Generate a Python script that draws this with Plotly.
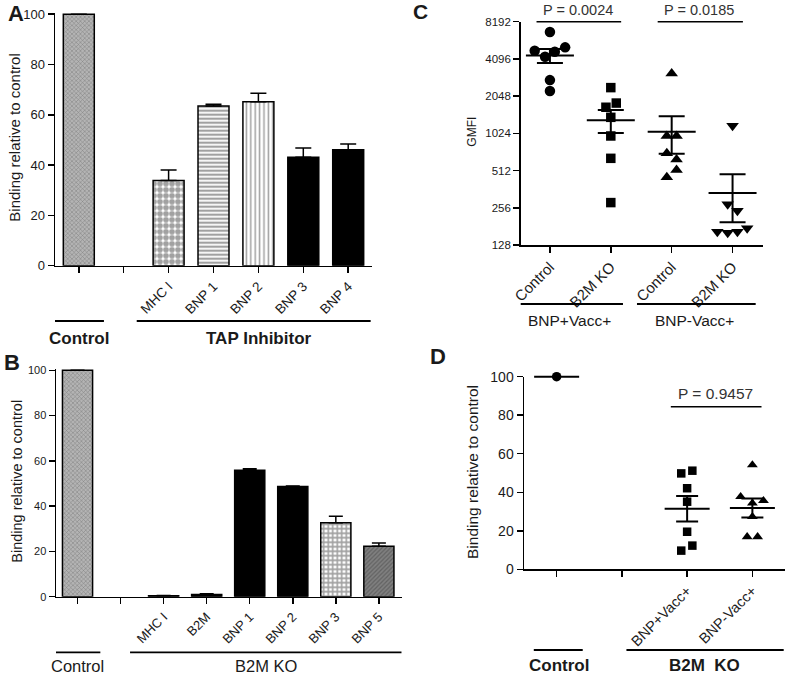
import numpy as np
import plotly.graph_objects as go

W, H = 787, 675
FONT = "Liberation Sans, Arial, sans-serif"
INK = "#1a1a1a"

# ---------------- Panel A data ----------------
a_labels = ["", "", "MHC I", "BNP 1", "BNP 2", "BNP 3", "BNP 4"]
a_values = [100, None, 33.9, 63.5, 65.2, 43.1, 46.1]
a_err = [0, None, 4.2, 0.7, 3.4, 3.7, 2.3]

# ---------------- Panel B data ----------------
b_labels = ["", "", "MHC I", "B2M", "BNP 1", "BNP 2", "BNP 3", "BNP 5"]
b_values = [100, None, 0.4, 1.0, 55.9, 48.7, 32.7, 22.3]
b_err = [0, None, 0.1, 0.3, 0.6, 0.2, 2.8, 1.4]

# ---------------- Panel C data (GMFI) ----------------
c_labels = ["Control", "B2M KO", "Control", "B2M KO"]
c_pos_ctrl = [6760, 4770, 4270, 4680, 5080, 2760, 2250]
c_pos_ko = [2400, 1800, 1665, 1380, 975, 643, 282]
c_neg_ctrl = [3125, 975, 975, 706, 630, 518, 452]
c_neg_ko = [1180, 274, 242, 164, 161, 164, 175]
c_ticks = [128, 256, 512, 1024, 2048, 4096, 8192]

# ---------------- Panel D data ----------------
d_labels = ["", "", "BNP+Vacc+", "BNP-Vacc+"]
d_control = [100]
d_pos_ko = [49.8, 51.2, 42.1, 35.1, 19.5, 9.7, 12.3]
d_neg_ko = [54.2, 37.7, 35.6, 34.3, 27.3, 16.9, 16.9]

# horizontal spread of scatter points (layout only)
jit_c_circ = [0, -0.25, -0.08, 0.08, 0.25, 0, 0]
jit_c_sq = [0, 0.09, -0.08, 0, 0, 0, 0]
jit_c_up = [0, -0.08, 0.08, -0.08, 0.08, 0.08, -0.08]
jit_c_dn = [0, -0.08, 0.08, -0.25, -0.08, 0.08, 0.24]
jit_d_sq = [-0.09, 0.08, 0, 0, 0, -0.09, 0.08]
jit_d_up = [0, -0.18, 0.17, 0, 0, -0.08, 0.08]


def px(x):
    return x / W


def py(y):
    return 1 - y / H


fig = go.Figure()

# ---- Bars A ----
a_shapes = ["x", "", ".", "-", "|", "", ""]
a_bg = ["#b4b4b4", "black", "white", "white", "white", "black", "black"]
a_size = [3, 8, 6, 4, 4.4, 8, 8]
a_sol = [0.3, 0.5, 0.7, 0.55, 0.35, 0.5, 0.5]
fig.add_trace(go.Bar(
    x=list(range(len(a_labels))), y=a_values, width=0.69,
    marker=dict(color=a_bg, line=dict(color="black", width=1.5),
                pattern=dict(shape=a_shapes, fgcolor="black",
                             size=a_size, solidity=a_sol, fillmode="overlay")),
    error_y=dict(type="data", array=a_err, arrayminus=[0] * len(a_err),
                 symmetric=False, color="black", thickness=1.5, width=8),
    xaxis="x", yaxis="y", showlegend=False))

# ---- Bars B ----
b_shapes = ["x", "", "", "", "", "", "+", "/"]
b_bg = ["#b4b4b4", "black", "black", "black", "black", "black", "white", "#808080"]
b_size = [3, 8, 8, 8, 8, 8, 4.5, 3]
b_sol = [0.3, 0.5, 0.5, 0.5, 0.5, 0.5, 0.6, 0.4]
fig.add_trace(go.Bar(
    x=list(range(len(b_labels))), y=b_values, width=0.7,
    marker=dict(color=b_bg, line=dict(color="black", width=1.5),
                pattern=dict(shape=b_shapes, fgcolor="black",
                             size=b_size, solidity=b_sol, fillmode="overlay")),
    error_y=dict(type="data", array=b_err, arrayminus=[0] * len(b_err),
                 symmetric=False, color="black", thickness=1.5, width=7),
    xaxis="x2", yaxis="y2", showlegend=False))


# ---- Scatter groups with mean +/- SEM ----
def add_group(vals, pos, jit, symbol, size, xa, ya, err_w, mean_len):
    fig.add_trace(go.Scatter(
        x=[pos + j for j in jit], y=vals, mode="markers",
        marker=dict(symbol=symbol, size=size, color="black"),
        xaxis=xa, yaxis=ya, showlegend=False, cliponaxis=False))
    arr = np.array(vals, dtype=float)
    m = float(arr.mean())
    s = float(arr.std(ddof=1) / np.sqrt(len(arr))) if len(arr) > 1 else 0.0
    fig.add_trace(go.Scatter(
        x=[pos], y=[m], mode="markers",
        marker=dict(symbol="line-ew", size=mean_len / 1.4, color="black",
                    line=dict(color="black", width=2)),
        error_y=dict(type="data", array=[s], visible=s > 0, color="black",
                     thickness=2, width=err_w),
        xaxis=xa, yaxis=ya, showlegend=False, cliponaxis=False))


add_group(c_pos_ctrl, 0, jit_c_circ, "circle", 10.5, "x3", "y3", 13, 48)
add_group(c_pos_ko, 1, jit_c_sq, "square", 9.5, "x3", "y3", 13, 48)
add_group(c_neg_ctrl, 2, jit_c_up, "triangle-up", 11, "x3", "y3", 13, 48)
add_group(c_neg_ko, 3, jit_c_dn, "triangle-down", 11, "x3", "y3", 13, 48)

add_group(d_control, 0, [0], "circle", 9.5, "x4", "y4", 11, 45)
add_group(d_pos_ko, 2, jit_d_sq, "square", 8.5, "x4", "y4", 11, 45)
add_group(d_neg_ko, 3, jit_d_up, "triangle-up", 9.5, "x4", "y4", 11, 45)

axis_common = dict(showline=True, linecolor="black", linewidth=1.5, ticks="outside",
                   ticklen=6, tickwidth=1.5, tickcolor="black", showgrid=False,
                   zeroline=False, fixedrange=True, automargin=False)

fig.update_layout(
    width=W, height=H,
    margin=dict(l=0, r=0, t=0, b=0, pad=0, autoexpand=False),
    paper_bgcolor="white", plot_bgcolor="white",
    font=dict(family=FONT, color=INK), bargap=0,
    xaxis=dict(domain=[px(55), px(372)], range=[-0.53, 6.53], anchor="y",
               tickvals=list(range(len(a_labels))), ticktext=a_labels, tickangle=-45,
               tickfont=dict(size=13.5), **axis_common),
    yaxis=dict(domain=[py(265.7), py(12.7)], range=[0, 100.6], anchor="x",
               tickvals=[0, 20, 40, 60, 80, 100], tickfont=dict(size=13), **axis_common),
    xaxis2=dict(domain=[px(56), px(401.7)], range=[-0.5, 7.53], anchor="y2",
                tickvals=list(range(len(b_labels))), ticktext=b_labels, tickangle=-45,
                tickfont=dict(size=13), **axis_common),
    yaxis2=dict(domain=[py(596.7), py(369)], range=[0, 100.6], anchor="x2",
                tickvals=[0, 20, 40, 60, 80, 100], tickfont=dict(size=11), **axis_common),
    xaxis3=dict(domain=[px(520.7), px(763)], range=[-0.48, 3.5], anchor="y3",
                tickvals=list(range(len(c_labels))), ticktext=c_labels, tickangle=-45,
                tickfont=dict(size=15), **axis_common),
    yaxis3=dict(domain=[py(245), py(21.7)], type="log",
                range=[np.log10(128), np.log10(8192)], anchor="x3",
                tickvals=c_ticks, ticktext=[str(t) for t in c_ticks],
                tickfont=dict(size=11.5), **axis_common),
    xaxis4=dict(domain=[px(524), px(785)], range=[-0.5, 3.5], anchor="y4",
                tickvals=list(range(len(d_labels))), ticktext=d_labels, tickangle=-45,
                tickfont=dict(size=14.5), **axis_common),
    yaxis4=dict(domain=[py(569.3), py(376.7)], range=[0, 100], anchor="x4",
                tickvals=[0, 20, 40, 60, 80, 100], tickfont=dict(size=14), **axis_common),
)

shapes = []


def hline(xref, x0, x1, y, yref="paper", w=1.8):
    shapes.append(dict(type="line", xref=xref, yref=yref, x0=x0, x1=x1, y0=y, y1=y,
                       line=dict(color="black", width=w)))


# group underlines
hline("x", -0.56, 0.56, py(321))
hline("x", 1.29, 6.5, py(321))
hline("x2", -0.52, 0.53, py(652.3))
hline("x2", 1.22, 7.53, py(652.3))
hline("x3", -0.55, 1.2, py(304))
hline("x3", 1.43, 3.38, py(304))
hline("x4", -0.35, 0.4, py(650))
hline("x4", 1.07, 3.48, py(650))
# significance lines
hline("x3", -0.22, 1.17, py(21.7), w=1.5)
hline("x3", 1.77, 3.17, py(21.7), w=1.5)
hline("x4", 1.75, 3.14, 84.4, yref="y4", w=1.5)

annots = []


def txt(text, x, y, size, bold=False, angle=0, color=INK):
    annots.append(dict(text=f"<b>{text}</b>" if bold else text, x=px(x), y=py(y),
                       xref="paper", yref="paper", showarrow=False, xanchor="center",
                       yanchor="middle", textangle=angle,
                       font=dict(family=FONT, size=size, color=color)))


txt("A", 15.5, 13, 22, bold=True)
txt("B", 11.5, 362.5, 22, bold=True)
txt("C", 420, 11.5, 21, bold=True)
txt("D", 438, 356.5, 22, bold=True)

txt("Binding relative to control", 15, 137.7, 15, angle=-90)
txt("Binding relative to control", 17, 481.7, 14.5, angle=-90)
txt("GMFI", 471.7, 132, 12, angle=-90)
txt("Binding relative to control", 472, 472, 15.5, angle=-90)

txt("Control", 79, 338.5, 17, bold=True)
txt("TAP Inhibitor", 258.5, 338.5, 17, bold=True)
txt("Control", 77, 665.5, 16.5)
txt("B2M KO", 266, 665.5, 16.5)
txt("BNP+Vacc+", 569, 320, 15.5)
txt("BNP-Vacc+", 694, 320, 15.5)
txt("Control", 559, 665.5, 17, bold=True)
txt("B2M&nbsp;&nbsp;KO", 704, 665.5, 17, bold=True)

txt("P = 0.0024", 578, 10, 14.5, color="#333")
txt("P = 0.0185", 699, 10, 14.5, color="#333")
txt("P = 0.9457", 715, 393, 15.5, color="#333")

fig.update_layout(shapes=shapes, annotations=annots)

fig.write_html("out.html",
               config={"displayModeBar": False, "staticPlot": True},
               post_script="document.body.style.margin='0';"
                           "document.body.style.padding='0';"
                           "document.body.style.overflow='hidden';")
